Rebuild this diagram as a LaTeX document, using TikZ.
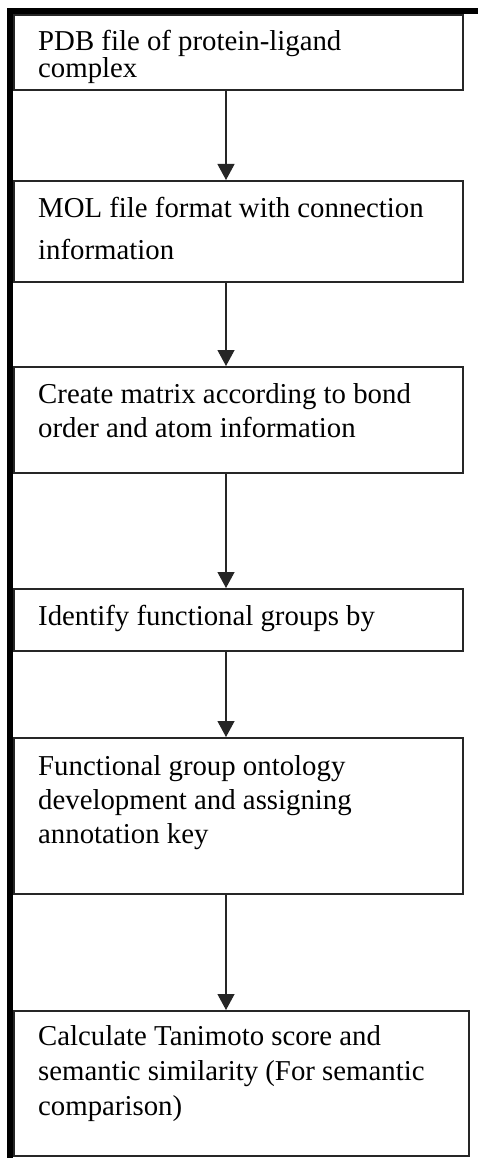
\documentclass[tikz,border=0pt]{standalone}
\usepackage{fontspec}
\setmainfont{Liberation Serif}
\usetikzlibrary{arrows.meta,calc}
\begin{document}
\begin{tikzpicture}[x=1pt,y=1pt,
  stepbox/.style={draw=black!85,line width=1.8pt,rectangle,inner sep=0pt,anchor=north west,minimum width=449pt},
  txt/.style={anchor=north west,inner sep=0pt,align=left,font=\fontsize{28.8}{34}\selectfont,text=black},
  arr/.style={line width=1.2pt,draw=black!85,-{Triangle[length=16pt,width=17pt]}}]
\useasboundingbox (0,0) rectangle (478,-1158);
\fill[white] (0,0) rectangle (478,-1158);
% frame bars
\fill[black] (7,-8) rectangle (478,-14);
\fill[black] (7,-8) rectangle (13,-1158);
% boxes
\node[stepbox,minimum height=75pt] (b1) at (13,-14) {};
\node[stepbox,minimum height=101pt] (b2) at (13,-180) {};
\node[stepbox,minimum height=106pt] (b3) at (13,-366) {};
\node[stepbox,minimum height=62pt] (b4) at (13,-588) {};
\node[stepbox,minimum height=156pt] (b5) at (13,-737) {};
\node[stepbox,minimum height=145pt,minimum width=455pt] (b6) at (13,-1010) {};
% texts
\node[txt] (t1) at (38,-26) {\rule{0pt}{24pt}PDB file of protein-ligand\\[-7pt]complex};
\node[txt] (t2) at (38,-193) {\rule{0pt}{24pt}MOL file format with connection\\[8pt]information};
\node[txt] (t3) at (38,-379) {\rule{0pt}{24pt}Create matrix according to bond\\order and atom information};
\node[txt] (t4) at (38,-601) {\rule{0pt}{24pt}Identify functional groups by};
\node[txt] (t5) at (38,-751) {\rule{0pt}{24pt}Functional group ontology\\development and assigning\\annotation key};
\node[txt] (t6) at (38,-1021) {\rule{0pt}{24pt}Calculate Tanimoto score and\\[1pt]semantic similarity (For semantic\\[1pt]comparison)};
% connectors
\coordinate (xa) at (226,0);
\draw[arr] (b1.south -| xa) -- (b2.north -| xa);
\draw[arr] (b2.south -| xa) -- (b3.north -| xa);
\draw[arr] (b3.south -| xa) -- (b4.north -| xa);
\draw[arr] (b4.south -| xa) -- (b5.north -| xa);
\draw[arr] (b5.south -| xa) -- (b6.north -| xa);
\end{tikzpicture}
\end{document}
